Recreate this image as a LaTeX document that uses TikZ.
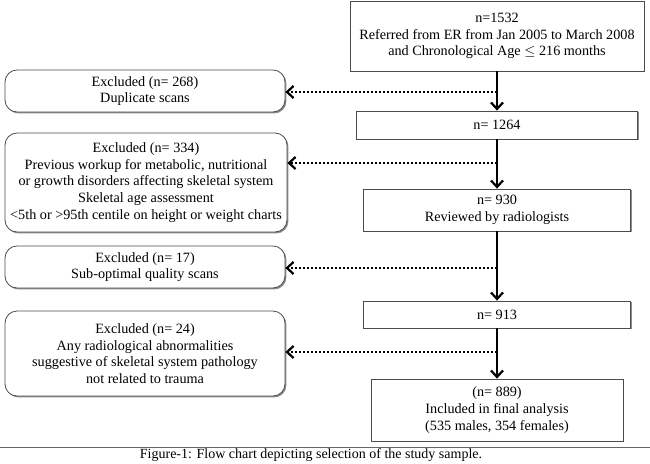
\documentclass[tikz,border=0pt]{standalone}
\usepackage{fontspec}
\setmainfont{Liberation Serif}
\usetikzlibrary{arrows.meta,shadows}
\begin{document}
\begin{tikzpicture}[x=1pt,y=-1pt,
  box/.style={draw=black!70, line width=0.8pt, fill=white, align=center, inner sep=0pt,
    font=\fontsize{14.2}{16.6}\selectfont,
    drop shadow={shadow xshift=1.4pt, shadow yshift=-1.4pt, fill=black!45, opacity=1}},
  rbox/.style={box, rounded corners=12pt},
  tipV/.style={-{Straight Barb[length=6.5pt, width=12pt, line width=2.2pt]}},
  flow/.style={line width=2.2pt, tipV},
  excl/.style={line width=2.2pt, dash pattern=on 2pt off 2pt, tipV}]
\useasboundingbox (0,0) rectangle (650,463);
% main column
\node[box, minimum width=294pt, minimum height=70pt] (b1) at (497,36)
  {n=1532\\Referred from ER from Jan 2005 to March 2008\\and Chronological Age $\leq$ 216 months};
\node[box, minimum width=281pt, minimum height=28pt] (b2) at (497,125) {n= 1264};
\node[box, minimum width=267pt, minimum height=42pt] (b3) at (497,210) {n= 930\\Reviewed by radiologists};
\node[box, minimum width=267pt, minimum height=27pt] (b4) at (497,314.5) {n= 913};
\node[box, minimum width=252pt, minimum height=62pt] (b5) at (497,410)
  {(n= 889)\\Included in final analysis\\(535 males, 354 females)};
% exclusions
\node[rbox, minimum width=280pt, minimum height=42pt] (e1) at (145,91)
  {Excluded (n= 268)\\Duplicate scans};
\node[rbox, minimum width=282pt, minimum height=99pt] (e2) at (146,182.5)
  {Excluded (n= 334)\\Previous workup for metabolic, nutritional\\or growth disorders affecting skeletal system\\Skeletal age assessment\\<5th or >95th centile on height or weight charts};
\node[rbox, minimum width=280pt, minimum height=42pt] (e3) at (145,267)
  {Excluded (n= 17)\\Sub-optimal quality scans};
\node[rbox, minimum width=280pt, minimum height=85pt] (e4) at (145,353.5)
  {Excluded (n= 24)\\Any radiological abnormalities\\suggestive of skeletal system pathology\\not related to trauma};
% flow arrows
\draw[flow] (b1.south) -- (b2.north);
\draw[flow] (b2.south) -- (b3.north);
\draw[flow] (b3.south) -- (b4.north);
\draw[flow] (b4.south) -- (b5.north);
% junctions on the flow line
\coordinate (j1) at (497,92);
\coordinate (j2) at (497,163);
\coordinate (j3) at (497,268);
\coordinate (j4) at (497,352);
\draw[excl] (j1) -- (j1 -| e1.east);
\draw[excl] (j2) -- (j2 -| e2.east);
\draw[excl] (j3) -- (j3 -| e3.east);
\draw[excl] (j4) -- (j4 -| e4.east);
% caption
\coordinate (l1) at (0,447);
\coordinate (l2) at (650,447);
\draw[black!60, line width=0.8pt] (l1) -- (l2);
\node[font=\fontsize{14}{15}\selectfont, inner sep=0pt] (cap) at (311,455)
  {Figure-1: Flow chart depicting selection of the study sample.};
\end{tikzpicture}
\end{document}
